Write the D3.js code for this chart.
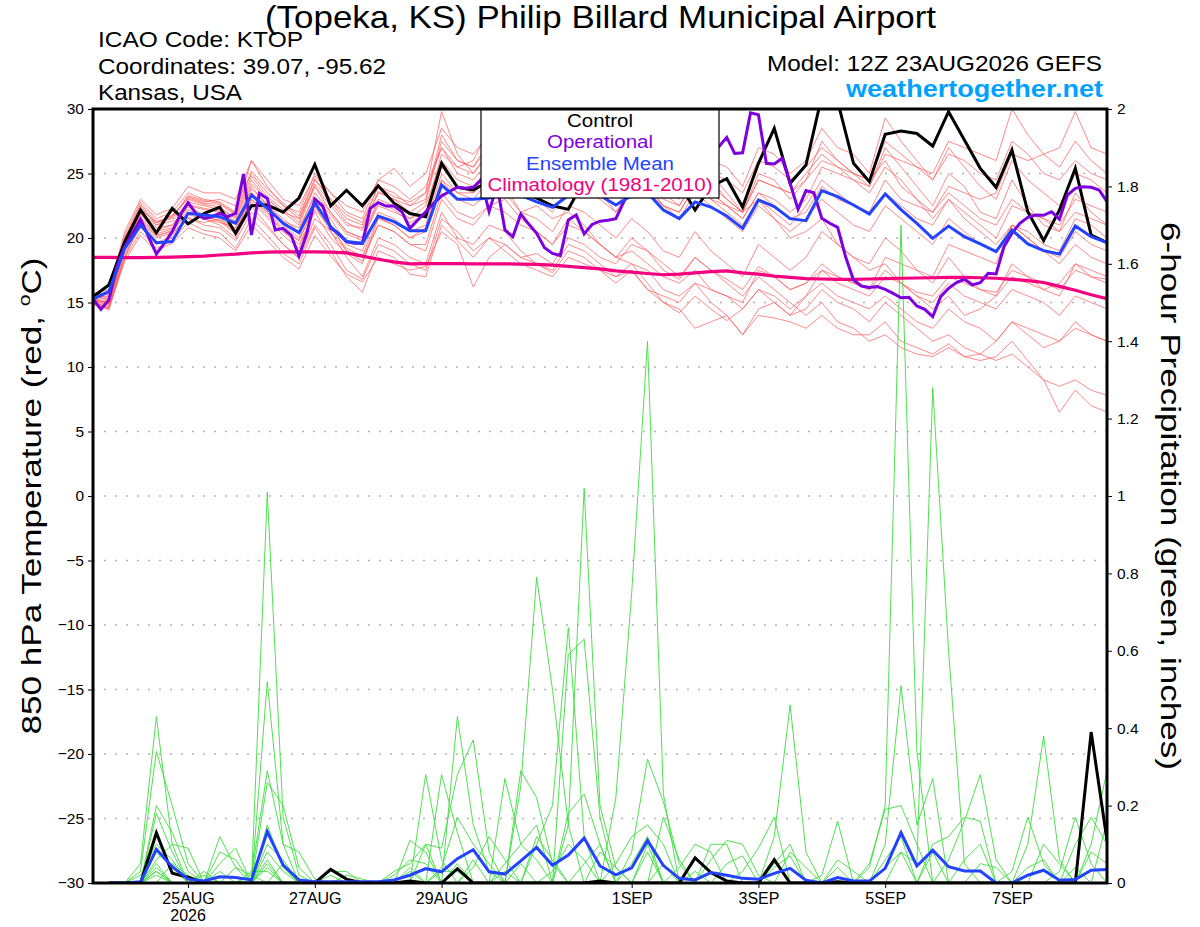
<!DOCTYPE html>
<html><head><meta charset="utf-8">
<script src="https://cdn.jsdelivr.net/npm/d3@7"></script>
<style>
body{margin:0;background:#fff;}
svg{display:block;font-family:"Liberation Sans",Arial,Helvetica,sans-serif;}
</style>
</head><body>
<svg id="chart" width="1200" height="927"></svg>
<script>
// ---------------- DATA ----------------
const runStartISO = "2026-08-23T12:00:00Z";   // GEFS 12Z 23AUG2026, 6-hourly to 8SEP 12Z
const titleText = "(Topeka, KS) Philip Billard Municipal Airport";
const infoLines = ["ICAO Code: KTOP", "Coordinates: 39.07, -95.62", "Kansas, USA"];
const modelText = "Model: 12Z 23AUG2026 GEFS";
const siteText = "weathertogether.net";
const legendLabels = ["Control", "Operational", "Ensemble Mean", "Climatology (1981-2010)"];
const leftTitleParts = ["850 hPa Temperature (red, ", "o", "C)"];
const rightTitle = "6-hour Precipitation (green, inches)";

const dateTicks = ["2026-08-25","2026-08-27","2026-08-29","2026-09-01","2026-09-03","2026-09-05","2026-09-07"];
const dateTickLabels = ["25AUG","27AUG","29AUG","1SEP","3SEP","5SEP","7SEP"];
const yearLabel = "2026";
const tempTicks = [-30,-25,-20,-15,-10,-5,0,5,10,15,20,25,30];
const precipTicks = [0,0.2,0.4,0.6,0.8,1,1.2,1.4,1.6,1.8,2];
const precipTickLabels = ["0","0.2","0.4","0.6","0.8","1","1.2","1.4","1.6","1.8","2"];

// 850 hPa temperature, 6-hourly (65 values)
const controlTemp = [15.45,16.36,19.7,22.17,20.4,22.3,21.1,21.9, 22.4,20.36,22.5,22.56,22.0,23.1,25.7,22.5,
  23.7,22.5,24.05,22.7,21.9,21.65,25.79,23.93, 23.72,24.4,24.0,23.6,23.1,22.5,22.22,24.5,
  24.0,23.8,24.5,24.0,23.5,24.2,22.17,24.0, 24.6,22.4,25.79,28.5,24.24,25.66,31.0,30.6,
  25.79,24.37,28.04,28.3,28.1,27.13,29.79,27.6, 25.4,23.93,26.82,22.04,19.8,22.17,25.4,20.23, 19.64];
const meanTemp = [15.27,15.84,19.2,21.0,19.64,19.72,21.91,21.78, 21.65,21.14,23.33,22.3,21.14,20.41,22.74,20.88,
  19.72,19.59,21.7,21.27,20.57,20.57,24.11,23.0, 23.0,23.1,23.4,23.3,22.8,22.38,23.3,23.6,
  23.3,22.56,23.3,23.5,22.17,21.5,22.8,22.4, 21.7,20.75,22.95,22.43,21.5,21.34,23.67,23.2,
  22.56,21.86,23.41,22.2,21.14,19.97,20.93,20.1, 19.54,18.94,20.62,19.54,19.02,18.76,20.93,20.1, 19.64];
const climTemp = [18.5,18.5,18.48,18.48,18.5,18.52,18.55,18.6, 18.68,18.75,18.85,18.9,18.93,18.93,18.93,18.9,
  18.85,18.6,18.35,18.15,18.0,18.02,18.02,18.02, 18.0,18.0,18.0,17.97,17.95,17.9,17.8,17.7,
  17.6,17.45,17.35,17.25,17.15,17.2,17.3,17.4, 17.45,17.3,17.2,17.05,16.95,16.85,16.82,16.8,
  16.8,16.82,16.85,16.88,16.9,16.92,16.95,16.95, 16.92,16.88,16.8,16.7,16.55,16.25,15.95,15.6, 15.3];
// Operational run, 3-hourly (129 values)
const operTemp = [15.27,14.47,15.2,17.78,19.33,20.36,21.45,20.1, 18.76,19.59,20.49,21.78,22.74,21.91,21.52,21.65,
  21.91,21.65,21.91,24.96,20.23,23.46,23.07,20.62, 20.75,20.23,18.6,20.36,23.0,22.48,20.75,20.36,
  19.72,19.59,19.59,22.3,22.74,22.48,22.48,22.04, 20.75,21.4,22.04,22.69,23.26,23.6,23.93,23.85,
  23.93,24.5,22.04,24.1,20.62,20.1,21.85,21.08, 20.36,19.25,18.81,18.64,21.4,21.78,20.31,21.05,
  21.3,21.37,21.5,22.8,24.0,24.5,25.0,24.6, 25.2,25.5,24.8,25.6,26.0,25.4,26.3,27.08,
  27.8,26.56,26.6,29.7,29.55,25.79,25.74,26.18, 24.24,22.22,23.67,23.5,21.52,21.14,20.83,18.55,
  16.74,16.28,16.17,16.23,16.02,15.71,15.37,15.4, 14.73,14.47,13.9,15.45,16.1,16.54,16.8,16.36,
  16.54,17.26,17.21,19.33,20.36,21.14,21.6,21.78, 21.76,22.04,21.45,23.33,23.85,23.98,23.93,23.72, 22.82];

// Ensemble members, 850 hPa temperature (6-hourly, 65 values each)
const ensT01 = [15.5,15.2,19.8,22.5,21.0,21.8,23.0,22.6, 22.4,21.5,24.2,23.0,22.0,21.5,24.0,22.5, 21.0,20.8,23.5,23.0,22.5,23.5,29.8,26.5, 25.0,26.8,27.5,25.5,25.0,24.0,25.5,26.0, 25.0,23.8,25.5,26.0,24.0,23.5,25.5,24.5, 23.0,22.0,25.0,24.5,23.0,24.5,27.5,26.0, 25.0,24.0,27.0,25.5,24.0,22.5,25.0,24.0, 22.0,21.5,24.5,22.5,21.0,20.5,23.5,22.0, 21.0];
const ensT02 = [15.0,14.6,18.5,21.0,19.5,20.0,21.5,21.2, 21.5,20.5,23.0,22.0,20.8,19.8,22.5,20.5, 19.0,18.5,21.0,20.5,19.5,19.0,23.0,21.5, 21.0,22.5,22.0,21.0,20.5,19.5,21.0,20.5, 19.5,18.5,19.0,18.0,17.0,16.5,17.5,16.0, 15.5,14.5,16.0,15.0,14.0,14.5,16.0,15.0, 14.5,13.5,15.0,14.0,13.0,12.0,12.5,11.5, 11.0,10.5,11.0,10.0,9.0,6.5,8.2,7.0, 6.5];
const ensT03 = [15.3,14.9,19.0,21.5,20.2,20.5,22.0,21.5, 21.0,20.0,22.5,21.0,19.5,18.5,21.5,20.5, 18.5,17.0,20.0,19.5,18.5,18.0,22.0,20.0, 19.5,21.0,20.5,19.0,18.0,17.3,19.0,18.5, 17.5,17.0,18.0,17.5,16.0,15.5,16.5,15.0, 14.0,12.5,14.0,13.8,13.5,13.0,14.0,13.0, 12.5,12.5,13.5,12.0,11.5,11.0,11.8,10.8, 10.5,10.8,12.0,10.5,9.0,8.5,9.0,8.2, 7.8];
const ensT04 = [15.6,15.8,20.2,22.8,21.5,22.0,23.5,23.0, 22.8,22.0,26.0,24.0,22.5,22.0,25.0,23.5, 22.0,21.5,24.5,24.0,23.0,24.0,27.0,25.5, 26.0,28.5,27.0,26.5,27.5,25.5,27.0,28.0, 27.0,25.5,26.5,28.0,26.0,25.0,27.5,26.0, 25.5,24.0,27.0,26.5,25.0,26.0,28.5,27.0, 26.5,25.0,29.3,27.5,26.0,24.5,27.0,25.5, 24.0,23.0,26.0,24.5,23.5,22.5,25.0,24.5, 23.5];
const ensT05 = [15.2,15.0,19.5,22.0,20.8,21.0,22.5,22.2, 22.0,21.2,23.5,22.5,21.5,20.5,23.5,22.0, 20.5,20.0,22.5,22.0,21.5,22.5,26.0,24.5, 24.0,25.5,26.0,24.5,24.0,23.5,25.0,24.0, 23.5,22.5,24.0,24.5,23.0,22.5,24.5,23.5, 22.5,21.5,23.5,23.0,22.0,23.0,25.5,25.0, 24.5,24.0,26.5,26.0,25.5,25.0,27.5,27.0, 26.5,26.0,30.0,28.0,26.5,25.5,27.5,26.0, 25.0];
const ensT06 = [15.4,15.5,20.0,22.2,21.2,21.5,23.2,22.8, 23.0,22.5,25.0,23.5,22.5,21.5,24.5,23.0, 21.5,21.0,24.0,23.5,22.5,23.0,28.0,26.0, 25.5,27.0,26.5,25.5,26.0,25.0,26.5,25.5, 24.5,23.5,25.0,24.0,22.5,22.0,24.0,23.0, 22.0,21.0,23.0,22.0,21.0,22.5,24.5,23.5, 22.5,22.0,24.5,23.0,22.5,22.0,24.0,23.5, 23.0,23.5,26.5,26.0,26.5,27.0,29.8,27.0, 26.5];
const ensT07 = [14.9,14.5,18.8,20.8,19.6,20.2,21.8,21.5, 21.2,20.8,23.0,21.8,20.5,19.5,22.0,20.0, 18.8,18.0,21.5,21.0,20.0,20.5,24.5,23.0, 22.5,23.5,24.0,22.0,21.5,20.5,22.5,22.0, 21.0,20.0,21.5,20.5,19.0,18.5,20.5,19.0, 18.0,17.0,19.5,18.5,17.5,18.5,20.5,19.5, 18.5,18.0,20.0,19.0,17.5,16.5,18.5,17.0, 16.0,15.5,18.0,17.0,16.0,15.5,18.0,17.0, 16.5];
const ensT08 = [15.1,14.8,19.2,21.8,20.5,20.8,22.4,21.8, 21.6,20.6,24.0,22.5,21.0,20.0,23.0,21.5, 19.5,19.0,22.0,21.5,20.5,21.0,25.0,23.5, 23.0,24.5,23.5,22.0,22.5,21.5,22.0,21.0, 19.5,18.5,18.0,16.5,15.0,14.5,13.0,13.5, 14.0,12.5,14.5,15.0,14.0,15.5,17.5,17.0, 16.5,16.0,18.5,18.0,17.5,17.0,19.5,19.0, 18.5,18.0,21.0,20.5,19.5,19.0,21.5,21.0, 20.0];
const ensT09 = [15.7,16.0,20.5,23.0,21.8,22.3,24.0,23.5, 23.5,23.0,26.0,24.5,23.0,22.5,24.8,23.5, 22.5,22.0,24.5,25.4,24.0,25.0,28.5,27.0, 26.5,28.0,28.5,27.0,26.5,25.5,27.5,26.5, 26.0,25.0,26.5,27.0,25.0,24.0,26.0,25.0, 24.5,23.5,26.0,25.5,24.5,25.5,27.0,26.0, 25.0,24.5,26.0,24.0,23.0,22.0,23.5,22.5, 21.5,21.0,23.0,22.0,21.5,21.0,23.0,22.5, 22.0];
const ensT10 = [15.0,14.7,18.6,21.2,20.0,20.4,21.6,21.0, 20.8,19.8,22.0,20.8,19.5,18.4,21.0,19.5, 17.5,16.8,19.5,19.0,18.0,17.5,21.5,20.5, 19.0,20.0,19.5,18.5,18.0,17.5,19.5,19.0, 18.0,17.0,17.5,16.0,15.0,14.2,15.5,14.5, 13.6,14.5,16.0,15.5,14.5,15.5,16.5,15.5, 15.0,14.5,15.5,14.5,13.5,13.0,14.5,13.5, 13.0,12.0,13.5,12.5,11.5,12.0,13.5,12.5, 12.0];
const ensT11 = [15.5,15.4,19.6,22.0,21.0,21.3,22.8,22.5, 22.2,21.6,24.5,23.0,22.0,21.0,24.0,22.0, 20.5,20.0,23.0,22.5,21.5,22.0,26.5,25.5, 25.0,26.5,27.5,26.0,25.5,24.5,26.0,25.5, 24.5,24.0,26.0,25.5,24.0,23.0,25.0,24.0, 23.0,22.0,24.5,24.0,23.5,25.0,26.5,25.5, 24.5,23.5,25.5,24.5,23.0,21.5,23.0,21.5, 20.5,19.5,21.0,20.0,19.0,18.0,19.5,18.5, 18.0];
const ensT12 = [15.3,15.1,19.3,21.6,20.3,20.7,22.2,21.6, 21.4,20.4,23.5,22.0,20.5,19.8,22.5,21.0, 19.0,18.2,21.0,20.5,19.5,19.5,23.5,22.0, 21.5,22.5,23.0,21.5,20.5,19.5,21.5,20.5, 19.5,18.5,20.0,19.0,18.0,17.0,18.5,17.5, 16.5,15.5,17.0,16.0,15.0,14.0,15.0,13.5, 13.0,12.0,12.5,11.5,11.0,10.8,11.5,10.8, 11.0,12.0,13.5,13.0,12.5,12.0,13.0,12.5, 12.0];
const ensT13 = [15.6,15.6,20.0,22.6,21.3,21.6,23.3,22.9, 22.7,21.9,25.2,23.8,22.7,21.7,24.6,23.0, 21.8,21.2,24.0,23.2,22.8,23.5,27.0,25.0, 24.5,26.0,25.0,24.0,24.5,23.0,24.5,24.5, 23.5,22.0,23.5,24.0,22.5,21.5,23.5,22.5, 21.5,20.5,22.5,21.5,20.5,21.5,23.0,22.0, 21.0,20.5,22.5,21.5,20.5,19.5,21.5,20.5, 19.5,19.0,21.0,20.0,19.0,18.5,20.5,19.5, 19.0];
const ensT14 = [15.2,14.9,19.4,21.9,20.6,21.0,22.6,22.3, 22.1,21.3,23.8,22.6,21.3,20.8,23.2,21.8, 20.3,19.8,22.8,22.2,21.2,21.8,25.5,24.0, 23.5,24.5,25.0,23.5,23.0,22.0,24.0,23.5, 23.0,22.0,24.0,23.5,22.5,22.0,24.0,23.0, 22.5,22.0,24.5,24.0,23.5,24.5,26.0,25.5, 25.0,24.5,27.5,26.5,25.5,24.5,26.5,26.0, 25.0,24.5,27.5,26.5,25.0,24.5,26.0,25.0, 24.5];
const ensT15 = [15.0,14.4,18.4,20.5,19.2,19.8,21.2,20.6, 20.4,19.2,21.5,20.2,18.8,18.0,20.8,19.0, 17.0,15.8,19.0,18.5,17.2,17.0,21.0,19.8, 18.5,20.0,19.0,18.0,17.5,17.0,18.5,18.0, 17.5,16.5,17.5,16.0,15.5,15.0,16.5,16.0, 15.5,15.0,17.5,17.0,16.0,16.5,18.0,17.0, 16.5,16.0,17.5,16.5,15.5,15.0,16.5,15.5, 15.0,14.5,16.0,15.5,15.0,14.0,15.5,15.0, 14.5];
const ensT16 = [15.4,15.3,19.9,22.3,21.2,21.7,23.1,22.7, 22.6,21.8,24.8,23.2,22.2,21.2,24.2,22.8, 21.2,20.6,23.6,23.0,22.0,22.8,27.5,26.0, 25.5,27.5,29.0,27.0,26.0,25.0,27.0,26.5, 25.5,24.5,26.0,25.0,23.5,22.5,24.5,23.5, 22.5,21.5,23.5,22.5,21.5,22.0,24.0,23.0, 22.5,22.0,23.5,22.5,21.5,21.0,23.0,22.0, 21.0,20.0,22.5,22.0,21.5,20.5,22.0,21.5, 21.0];
const ensT17 = [15.1,15.0,19.1,21.4,20.1,20.6,22.0,21.7, 21.3,20.3,22.8,21.6,20.2,19.2,22.2,20.8, 19.2,18.6,21.6,21.0,20.0,20.8,24.5,23.5, 23.5,25.5,26.0,24.5,25.0,24.0,26.0,25.0, 25.5,25.0,27.0,28.0,26.5,25.5,27.0,25.0, 23.5,22.0,23.0,21.5,20.0,20.5,21.5,19.5, 18.5,17.5,18.0,16.5,15.5,14.5,15.5,14.0, 14.5,15.5,17.0,16.5,16.0,16.5,18.0,17.5, 17.0];
const ensT18 = [14.8,14.6,18.2,20.2,19.0,19.6,20.8,20.3, 20.0,19.0,21.0,19.8,18.5,17.6,20.2,18.6, 17.2,16.6,18.5,18.0,17.5,17.8,20.5,19.5, 16.2,18.5,19.5,18.5,18.8,18.0,20.0,19.5, 18.5,18.0,19.5,19.0,17.5,16.8,18.5,17.5, 16.8,16.0,17.8,17.0,16.0,16.5,17.5,16.5, 16.0,15.5,17.0,16.5,15.8,15.5,17.0,16.5, 16.0,15.8,17.5,17.0,16.5,16.0,17.5,17.0, 16.8];
const ensTemp = [ensT01,ensT02,ensT03,ensT04,ensT05,ensT06,ensT07,ensT08,ensT09,ensT10,ensT11,ensT12,ensT13,ensT14,ensT15,ensT16,ensT17,ensT18];

// 6-hour precipitation (inches), 65 slots; first slot (analysis time) has no accumulation
const controlPrecip = [null,0,0,0,.13,.025,.015,0, 0,0,0,0,0,0,0,.035, .01,0,0,0,.005,0,0,.037, 0,0,0,0,0,0,0,0,
  .005,0,0,0,0,0,.065,.027, .005,0,0,.06,0,0,0,.003, 0,0,0,0,0,0,0,0, 0,0,0,0,0,0,0,.39, .11];
const meanPrecip = [null,0,0,.003,.087,.042,.01,.005, .016,.014,.008,.133,.046,.008,.003,.003, .003,.003,.003,.008,.02,.037,.029,.063,
  .086,.029,.023,.057,.092,.046,.072,.116, .044,.021,.039,.11,.045,.012,.008,.027, .02,.012,.01,.025,.038,.007,0,.014,
  .005,.005,.038,.13,.044,.085,.042,.031, .031,0,0,.02,.033,.007,.009,.033, .035];
const ensP01 = [null,0,0,.05,.43,.1,0,0, 0,0,0,.26,.2,.04,0,0, 0,0,0,0,0,0,.03,.03, 0,0,0,0,0,0,0,0, 0,.22,.75,1.4,.23,0,0,0, 0,0,0,0,0,0,0,0, 0,0,0,0,0,0,0,.06, .1,0,0,0,0,0,.04,0, 0];
const ensP02 = [null,0,0,.03,.34,.2,.05,0, 0,0,0,.1,.06,0,0,.02, 0,0,0,0,0,0,0,.43, .15,.03,0,0,0,0,0,0, 0,0,.08,.32,.21,.05,0,0, 0,0,0,0,0,0,0,0, 0,0,0,0,0,0,0,0, .05,.04,0,0,0,0,0,.08, .05];
const ensP03 = [null,0,0,0,.2,.13,.03,0, 0,0,0,1.01,.17,.02,0,0, 0,0,0,0,0,0,0,0, .06,0,0,.05,0,0,0,0, 0,.05,.12,.15,.1,0,0,0, 0,0,0,0,0,0,0,0, 0,.04,.2,1.7,.34,0,0,0, 0,0,0,0,0,0,0,0, 0];
const ensP04 = [null,0,0,0,.18,.08,0,.03, 0,0,0,.52,.1,.08,.01,0, 0,0,0,0,0,0,0,0, 0,0,.05,.1,.06,0,0,0, 0,0,0,.1,0,0,.03,0, 0,0,0,0,0,0,0,0, 0,0,.1,.51,.15,.27,0,0, 0,0,0,0,0,0,0,0, 0];
const ensP05 = [null,0,0,.02,.1,.06,0,0, .12,.04,.02,.29,.1,0,0,0, 0,0,0,0,0,0,0,0, 0,0,.03,0,0,0,0,.05, .1,0,0,0,0,0,0,.1, .1,0,0,0,0,0,0,0, 0,0,0,.08,.05,1.28,.6,.05, 0,0,0,0,0,0,0,0, 0];
const ensP06 = [null,0,0,0,.08,.04,0,0, .05,.09,0,.15,.04,0,0,0, 0,0,0,0,.11,.08,0,0, 0,0,0,0,.12,.06,0,0, 0,0,0,0,0,0,0,0, .05,.07,0,0,0,0,0,0, 0,0,.04,.08,0,.08,0,0, 0,0,0,0,0,0,0,0, 0];
const ensP07 = [null,0,0,0,.06,.1,.09,0, 0,0,0,.05,0,0,0,0, 0,0,0,.03,.05,.1,0,0, 0,0,0,0,0,0,.18,.23, .1,0,0,0,0,0,0,0, 0,.03,.09,.17,0,0,0,0, 0,0,0,0,0,0,0,0, 0,0,0,0,0,0,0,0, 0];
const ensP08 = [null,0,0,0,.05,0,0,0, .08,.06,0,.04,0,0,0,.03, .03,0,0,0,0,.28,.06,0, 0,0,0,0,0,0,0,0, 0,0,0,.08,0,0,0,0, 0,0,0,.12,.46,.08,0,0, 0,0,0,0,0,0,0,0, 0,0,0,0,0,0,0,0, 0];
const ensP09 = [null,0,0,0,.04,0,0,0, .03,0,.03,.03,0,0,0,0, .02,.01,0,0,0,0,0,0, 0,0,0,.29,.22,.05,0,0, 0,0,0,0,.05,0,0,0, 0,0,0,.05,.1,0,0,0, 0,0,0,0,0,0,0,0, 0,0,.03,.17,.05,0,0,0, 0];
const ensP10 = [null,0,0,0,.03,0,0,0, 0,.04,0,0,0,0,0,0, 0,0,0,.02,.06,.05,0,0, 0,0,0,.25,.79,.5,.15,0, 0,0,0,0,0,0,0,0, 0,0,0,.04,.07,0,0,0, 0,0,0,0,0,0,0,0, 0,0,0,.1,.38,.06,0,0, 0];
const ensP11 = [null,0,0,0,.03,0,0,0, 0,0,0,.08,.03,0,0,0, 0,0,0,0,.04,0,0,0, 0,0,0,0,.1,.2,.66,.12, 0,0,0,0,0,0,0,0, 0,0,0,0,.08,.04,0,0, 0,0,0,0,0,0,0,0, 0,0,0,.04,.06,0,0,0, 0];
const ensP12 = [null,0,0,0,.02,0,0,0, 0,0,.02,0,0,0,0,0, 0,0,0,0,.03,0,.28,.13, 0,0,0,0,0,0,.59,.63, .17,0,0,0,0,0,0,0, 0,0,0,0,0,0,.02,.16, 0,0,0,0,0,0,0,0, 0,0,0,0,.1,.05,0,0, 0];
const ensP13 = [null,0,0,0,0,.05,.02,0, 0,0,0,.06,0,0,0,0, 0,0,0,0,0,.1,.09,.28, .37,.08,0,0,0,0,0,0, 0,0,0,0,0,0,0,0, 0,0,0,0,0,0,0,.06, .03,0,0,0,0,0,0,0, 0,0,0,0,0,.03,.17,.05, 0];
const ensP14 = [null,0,0,0,0,0,0,.02, 0,0,0,0,.05,0,0,0, 0,0,0,0,0,0,.04,.17, .1,.05,0,0,0,0,.15,1.02, .2,.04,0,0,0,0,0,0, 0,0,0,0,0,0,0,.04, 0,0,0,0,0,0,0,0, 0,0,0,0,0,0,.1,.17, .1];
const ensP15 = [null,0,0,0,0,0,0,0, 0,0,0,0,0,0,0,0, 0,0,0,0,0,0,0,.05, 0,0,.27,.1,.15,0,0,0, 0,0,.05,.12,0,0,0,0, 0,0,0,0,0,0,0,0, 0,.05,.19,.2,.1,0,0,0, 0,0,0,0,0,0,0,.1, .29];
const ensP16 = [null,0,0,0,0,0,0,0, 0,0,0,0,0,0,0,0, 0,0,0,0,0,0,0,0, .04,.12,.06,0,0,0,0,0, .08,.04,0,0,.17,.06,0,0, 0,0,0,0,0,0,0,0, 0,0,.06,.12,0,0,0,0, 0,0,0,0,0,0,0,0, .16];
const ensP17 = [null,0,0,0,0,0,0,0, 0,0,0,0,0,0,0,0, 0,0,0,0,0,0,0,0, 0,0,0,0,0,.03,.1,.06, 0,0,0,0,0,.04,.1,.08, 0,0,0,0,0,0,0,0, 0,0,0,0,0,.1,.12,.17, .16,0,0,0,0,0,0,0, 0];
const ensP18 = [null,0,0,0,0,0,0,0, 0,0,0,0,0,0,0,0, 0,0,0,0,0,0,0,0, 0,0,0,0,0,0,0,0, 0,0,0,0,0,0,0,.06, .11,.1,.02,0,0,0,0,0, 0,0,0,0,0,0,.06,.16, .28,.06,0,0,0,0,0,0, 0];
const ensPrecip = [ensP01,ensP02,ensP03,ensP04,ensP05,ensP06,ensP07,ensP08,ensP09,ensP10,ensP11,ensP12,ensP13,ensP14,ensP15,ensP16,ensP17,ensP18];

// ---------------- CHART ----------------
const W = 1200, H = 927;
const M = {left: 93, right: 93, top: 109, bottom: 44};
const HOUR = 3600e3;
const t0 = Date.parse(runStartISO);
const x = d3.scaleUtc().domain([t0, t0 + 384*HOUR]).range([M.left, W - M.right]);
const yT = d3.scaleLinear().domain([-30, 30]).range([H - M.bottom, M.top]);
const yP = d3.scaleLinear().domain([0, 2]).range([H - M.bottom, M.top]);
const [x0, x1] = x.range();
const [yb, yt] = yT.range();

const C = {red:"#ff5c5c", green:"#3cdc3c", control:"#000000", oper:"#7f00df",
           mean:"#2343ff", clim:"#f20080", grid:"#b4b4b4", site:"#00a2ff"};

const svg = d3.select("#chart");
svg.append("rect").attr("width", W).attr("height", H).attr("fill", "#fff");
svg.append("defs").append("clipPath").attr("id", "plotclip")
  .append("rect").attr("x", x0).attr("y", yt).attr("width", x1 - x0).attr("height", yb - yt);

// grid
svg.append("g").selectAll("line")
  .data(tempTicks.filter(v => v > -30 && v < 30)).join("line")
  .attr("x1", x0).attr("x2", x1).attr("y1", d => yT(d)).attr("y2", d => yT(d))
  .attr("stroke", C.grid).attr("stroke-width", 1.4).attr("stroke-dasharray", "2,9");

const plot = svg.append("g").attr("clip-path", "url(#plotclip)");
const t6 = i => t0 + i*6*HOUR;
const t3 = j => t0 + j*3*HOUR;
const lineT6 = d3.line().x((d,i) => x(t6(i))).y(d => yT(d));
const lineT3 = d3.line().x((d,i) => x(t3(i))).y(d => yT(d));
const lineP6 = d3.line().defined(d => d != null).x((d,i) => x(t6(i))).y(d => yP(d));

plot.append("g").selectAll("path").data(ensTemp).join("path")
  .attr("d", lineT6).attr("fill", "none").attr("stroke", C.red).attr("stroke-width", 0.8).attr("stroke-opacity", 0.9);
plot.append("g").selectAll("path").data(ensPrecip).join("path")
  .attr("d", lineP6).attr("fill", "none").attr("stroke", C.green).attr("stroke-width", 0.9);

plot.append("path").attr("d", lineP6(controlPrecip)).attr("fill","none").attr("stroke", C.control).attr("stroke-width", 3);
plot.append("path").attr("d", lineP6(meanPrecip)).attr("fill","none").attr("stroke", C.mean).attr("stroke-width", 3);
plot.append("path").attr("d", lineT6(climTemp)).attr("fill","none").attr("stroke", C.clim).attr("stroke-width", 3.2);
plot.append("path").attr("d", lineT6(controlTemp)).attr("fill","none").attr("stroke", C.control).attr("stroke-width", 3);
plot.append("path").attr("d", lineT3(operTemp)).attr("fill","none").attr("stroke", C.oper).attr("stroke-width", 3);
plot.append("path").attr("d", lineT6(meanTemp)).attr("fill","none").attr("stroke", C.mean).attr("stroke-width", 3);

// legend
const lg = svg.append("g");
const lgX = 481, lgY = yt, lgW = 238, lgH = 89;
lg.append("rect").attr("x", lgX).attr("y", lgY).attr("width", lgW).attr("height", lgH)
  .attr("fill", "#fff").attr("stroke", "#000").attr("stroke-width", 1.2);
const lgColors = [C.control, C.oper, C.mean, C.clim];
const lgWidths = [66, 106, 148, 225];
lg.selectAll("text").data(legendLabels).join("text")
  .attr("x", lgX + lgW/2).attr("y", (d,i) => lgY + 18 + i*21.3)
  .attr("text-anchor", "middle").attr("font-size", 17.5)
  .attr("textLength", (d,i) => lgWidths[i]).attr("lengthAdjust", "spacingAndGlyphs")
  .attr("fill", (d,i) => lgColors[i]).text(d => d);

// axes
const fmtDate = d3.utcParse("%Y-%m-%d");
const xAxis = d3.axisBottom(x).tickValues(dateTicks.map(fmtDate))
  .tickFormat((d,i) => dateTickLabels[i]).tickSize(5).tickPadding(5);
const gx = svg.append("g").attr("transform", `translate(0,${yb})`).call(xAxis);
gx.select(".domain").remove();
gx.selectAll("text").attr("font-size", 16).attr("fill", "#000").attr("font-family", "Liberation Sans, Arial, sans-serif");
gx.selectAll("line").attr("stroke", "#000").attr("stroke-width", 1);
svg.append("text").attr("x", x(fmtDate(dateTicks[0]))).attr("y", yb + 38)
  .attr("text-anchor", "middle").attr("font-size", 16).text(yearLabel);

const yAxisL = d3.axisLeft(yT).tickValues(tempTicks).tickSize(5).tickPadding(4);
const gyl = svg.append("g").attr("transform", `translate(${x0},0)`).call(yAxisL);
gyl.select(".domain").remove();
gyl.selectAll("text").attr("font-size", 15.5).attr("fill", "#000").attr("font-family", "Liberation Sans, Arial, sans-serif");
gyl.selectAll("line").attr("stroke", "#000");

const yAxisR = d3.axisRight(yP).tickValues(precipTicks).tickFormat((d,i) => precipTickLabels[i]).tickSize(5).tickPadding(5);
const gyr = svg.append("g").attr("transform", `translate(${x1},0)`).call(yAxisR);
gyr.select(".domain").remove();
gyr.selectAll("text").attr("font-size", 15.5).attr("fill", "#000").attr("font-family", "Liberation Sans, Arial, sans-serif");
gyr.selectAll("line").attr("stroke", "#000");

// frame
svg.append("rect").attr("x", x0).attr("y", yt).attr("width", x1 - x0).attr("height", yb - yt)
  .attr("fill", "none").attr("stroke", "#000").attr("stroke-width", 3);

// axis titles
const lt = svg.append("text").attr("transform", `translate(41,${(yt+yb)/2}) rotate(-90)`)
  .attr("text-anchor", "middle").attr("font-size", 28)
  .attr("textLength", 477).attr("lengthAdjust", "spacingAndGlyphs");
lt.append("tspan").text(leftTitleParts[0]);
lt.append("tspan").attr("font-size", 17).attr("dy", -11).text(leftTitleParts[1]);
lt.append("tspan").attr("dy", 11).text(leftTitleParts[2]);
svg.append("text").attr("transform", `translate(1161,${(yt+yb)/2}) rotate(90)`)
  .attr("text-anchor", "middle").attr("font-size", 27)
  .attr("textLength", 548).attr("lengthAdjust", "spacingAndGlyphs").text(rightTitle);

// header texts
svg.append("text").attr("x", W/2 + 0.5).attr("y", 28).attr("text-anchor", "middle")
  .attr("font-size", 32).attr("textLength", 671).attr("lengthAdjust", "spacingAndGlyphs").text(titleText);
const infoW = [205, 288, 144];
svg.append("g").selectAll("text").data(infoLines).join("text")
  .attr("x", 98).attr("y", (d,i) => 47 + i*26.5).attr("font-size", 21.5)
  .attr("textLength", (d,i) => infoW[i]).attr("lengthAdjust", "spacingAndGlyphs").text(d => d);
svg.append("text").attr("x", 1102).attr("y", 71).attr("text-anchor", "end")
  .attr("font-size", 21.5).attr("textLength", 335).attr("lengthAdjust", "spacingAndGlyphs").text(modelText);
svg.append("text").attr("x", 1103).attr("y", 97).attr("text-anchor", "end")
  .attr("font-size", 23).attr("font-weight", "bold").attr("fill", C.site)
  .attr("textLength", 257).attr("lengthAdjust", "spacingAndGlyphs").text(siteText);
</script>
</body></html>
